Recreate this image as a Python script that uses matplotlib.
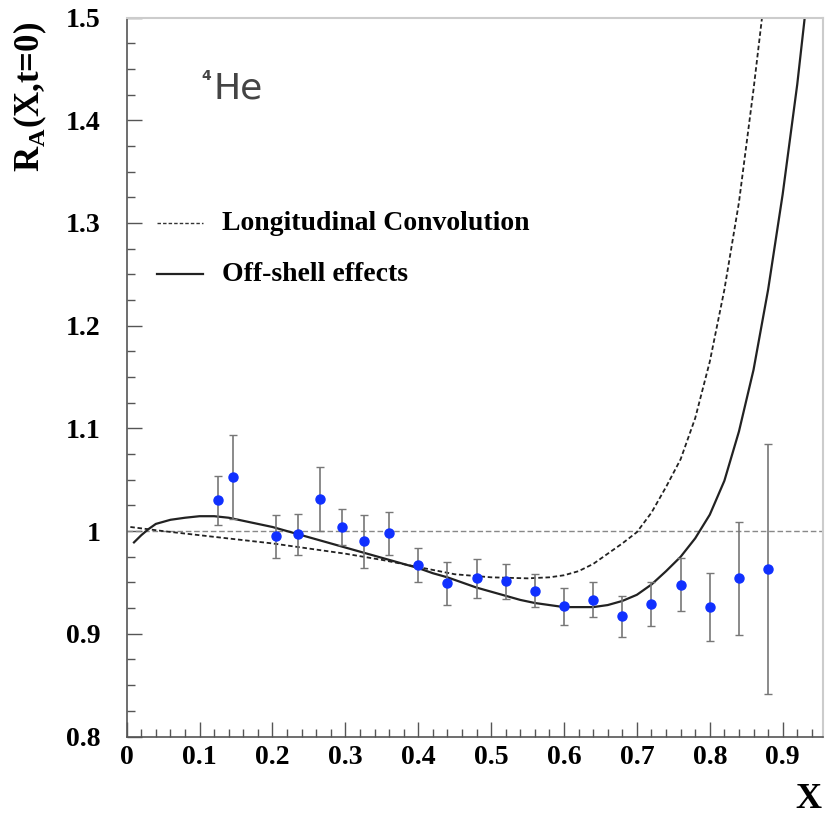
import matplotlib

matplotlib.use('Agg')
import matplotlib.pyplot as plt
from matplotlib.ticker import MultipleLocator, FormatStrFormatter

# measured ratio R_A for 4He
x_data = [0.125, 0.146, 0.205, 0.235, 0.265, 0.295, 0.326, 0.360, 0.400, 0.440,
          0.480, 0.520, 0.560, 0.600, 0.640, 0.680, 0.720, 0.760, 0.800, 0.840, 0.880]
r_data = [1.030, 1.053, 0.995, 0.997, 1.031, 1.004, 0.990, 0.998, 0.967, 0.949,
          0.954, 0.951, 0.942, 0.927, 0.933, 0.917, 0.929, 0.948, 0.926, 0.954, 0.963]
r_err = [0.024, 0.041, 0.021, 0.020, 0.031, 0.018, 0.026, 0.021, 0.017, 0.021,
         0.019, 0.017, 0.016, 0.018, 0.017, 0.020, 0.021, 0.026, 0.033, 0.055, 0.122]

# longitudinal convolution curve
x_conv = [0.005, 0.05, 0.10, 0.15, 0.20, 0.25, 0.30, 0.35, 0.40, 0.45, 0.50, 0.55,
          0.58, 0.60, 0.62, 0.64, 0.66, 0.68, 0.70, 0.72, 0.74, 0.76, 0.78, 0.80,
          0.82, 0.84, 0.86, 0.875]
r_conv = [1.004, 1.000, 0.996, 0.992, 0.988, 0.983, 0.978, 0.972, 0.965, 0.958, 0.955, 0.954,
          0.955, 0.957, 0.961, 0.968, 0.978, 0.988, 0.999, 1.018, 1.043, 1.070, 1.110, 1.165,
          1.235, 1.320, 1.430, 1.52]

# off-shell effects curve
x_off = [0.01, 0.02, 0.03, 0.04, 0.06, 0.08, 0.10, 0.12, 0.14, 0.16, 0.18, 0.20, 0.22,
         0.24, 0.26, 0.28, 0.30, 0.32, 0.34, 0.36, 0.38, 0.40, 0.42, 0.44, 0.46, 0.48,
         0.50, 0.52, 0.54, 0.56, 0.58, 0.60, 0.62, 0.64, 0.66, 0.68, 0.70, 0.72, 0.74,
         0.76, 0.78, 0.80, 0.82, 0.84, 0.86, 0.88, 0.90, 0.92, 0.935]
r_off = [0.989, 0.996, 1.002, 1.007, 1.011, 1.013, 1.0145, 1.0145, 1.013, 1.010, 1.007, 1.004,
         1.000, 0.996, 0.992, 0.988, 0.984, 0.980, 0.976, 0.972, 0.968, 0.964, 0.959, 0.955,
         0.950, 0.945, 0.941, 0.937, 0.933, 0.930, 0.928, 0.926, 0.926, 0.926, 0.928, 0.932,
         0.938, 0.948, 0.961, 0.975, 0.993, 1.016, 1.049, 1.097, 1.157, 1.235, 1.328, 1.435,
         1.53]

y_ticks = [0.8, 0.9, 1.0, 1.1, 1.2, 1.3, 1.4, 1.5]
x_ticks = [0, 0.1, 0.2, 0.3, 0.4, 0.5, 0.6, 0.7, 0.8, 0.9]

serif = ['Liberation Serif', 'DejaVu Serif']
plt.rcParams['mathtext.fontset'] = 'custom'
plt.rcParams['mathtext.rm'] = 'Liberation Serif:bold'

fig = plt.figure(figsize=(8.27, 8.19), dpi=100)
ax = fig.add_axes([0.1532, 0.1007, 0.8423, 0.8779])

ax.axhline(1.0, color='#888888', lw=1.0, ls=(0, (4, 2)))
ax.plot(x_conv, r_conv, color='#222222', lw=1.3, ls=(0, (2.5, 1.5)))
ax.plot(x_off, r_off, color='#222222', lw=1.6)
ax.errorbar(x_data, r_data, yerr=r_err, fmt='o', color='#1030ff', ms=6.5,
            ecolor='#777777', elinewidth=1.2, capsize=3, capthick=1.0, zorder=5)

ax.set_xlim(0, 0.9557)
ax.set_ylim(0.8, 1.5)
ax.set_xticks(x_ticks)
ax.set_yticks(y_ticks)
ax.xaxis.set_minor_locator(MultipleLocator(0.02))
ax.yaxis.set_minor_locator(MultipleLocator(0.025))
ax.yaxis.set_major_formatter(FormatStrFormatter('%g'))
ax.xaxis.set_major_formatter(FormatStrFormatter('%g'))
ax.tick_params(which='both', direction='in', top=False, right=False, color='#555555')
ax.tick_params(which='major', length=11, width=1)
ax.tick_params(which='minor', length=6, width=1)
ax.tick_params(axis='y', pad=19)
ax.tick_params(axis='x', pad=6)
for lab in ax.get_xticklabels() + ax.get_yticklabels():
    lab.set_family(serif)
    lab.set_fontweight('bold')
    lab.set_fontsize(20)

for side in ['left', 'bottom']:
    ax.spines[side].set_color('#555555')
    ax.spines[side].set_linewidth(1.2)
for side in ['top', 'right']:
    ax.spines[side].set_color('#cccccc')
    ax.spines[side].set_linewidth(1.5)

# legend drawn by hand
ax.plot([0.0435, 0.1095], [0.714, 0.714], transform=ax.transAxes,
        color='#333333', lw=1.0, ls=(0, (2.5, 1.5)))
ax.plot([0.0435, 0.1095], [0.643, 0.643], transform=ax.transAxes,
        color='#222222', lw=1.6)
ax.text(0.137, 0.714, 'Longitudinal Convolution', transform=ax.transAxes,
        family=serif, fontweight='bold', fontsize=20, va='center', ha='left')
ax.text(0.137, 0.643, 'Off-shell effects', transform=ax.transAxes,
        family=serif, fontweight='bold', fontsize=20, va='center', ha='left')

ax.text(0.107, 0.913, '4', transform=ax.transAxes, fontsize=10, color='#444444',
        va='baseline', ha='left', family='DejaVu Sans', fontweight='bold')
ax.text(0.124, 0.8876, 'He', transform=ax.transAxes, fontsize=26,
        color='#444444', va='baseline', ha='left', family='DejaVu Sans')

fig.text(30 / 827, 1 - 97 / 819, r'R$_\mathrm{A}$(X,t=0)', rotation=90, family=serif,
         fontweight='bold', fontsize=25, va='center', ha='center')
fig.text(808 / 827, 1 - 800 / 819, 'X', family=serif, fontweight='bold',
         fontsize=26, va='center', ha='center')

fig.savefig('out.png', dpi=100)
plt.close(fig)
